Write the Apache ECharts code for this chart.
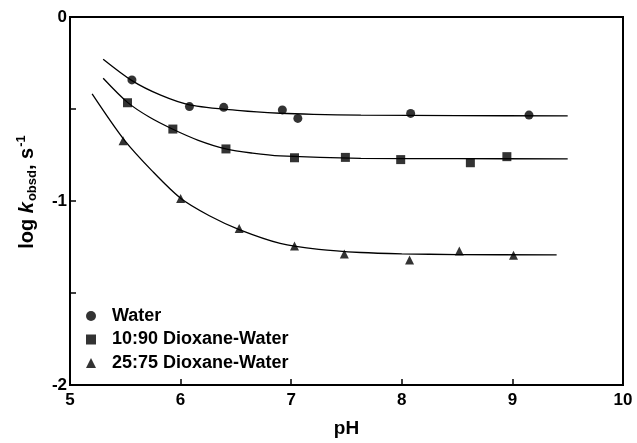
<!DOCTYPE html>
<html>
<head>
<meta charset="utf-8">
<script src="https://cdn.jsdelivr.net/npm/echarts@6/dist/echarts.min.js"></script>
<style>html,body{margin:0;padding:0;background:#fff;}#c{width:637px;height:443px;}</style>
</head>
<body>
<div id="c"></div>
<script>
// Measured points
const waterX = [5.56, 6.08, 6.39, 6.92, 7.06, 8.08, 9.15];
const waterY = [-0.342, -0.487, -0.491, -0.505, -0.551, -0.524, -0.533];
const diox10X = [5.52, 5.93, 6.41, 7.03, 7.49, 7.99, 8.62, 8.95];
const diox10Y = [-0.466, -0.609, -0.717, -0.765, -0.763, -0.775, -0.792, -0.759];
const diox25X = [5.48, 6.00, 6.53, 7.03, 7.48, 8.07, 8.52, 9.01];
const diox25Y = [-0.672, -0.986, -1.149, -1.245, -1.288, -1.321, -1.272, -1.295];
// Fitted curves
const waterFitX = [5.30, 5.56, 5.82, 6.08, 6.54, 6.90, 7.20, 7.63, 8.50, 9.50];
const waterFitY = [-0.230, -0.346, -0.425, -0.477, -0.509, -0.523, -0.529, -0.533, -0.536, -0.537];
const diox10FitX = [5.30, 5.52, 5.72, 5.93, 6.16, 6.41, 6.65, 6.90, 7.63, 8.50, 9.50];
const diox10FitY = [-0.333, -0.464, -0.545, -0.610, -0.670, -0.717, -0.740, -0.755, -0.768, -0.770, -0.771];
const diox25FitX = [5.20, 5.49, 5.74, 6.00, 6.26, 6.53, 6.90, 7.25, 7.63, 8.00, 8.50, 9.40];
const diox25FitY = [-0.418, -0.668, -0.835, -0.985, -1.080, -1.155, -1.230, -1.263, -1.280, -1.287, -1.291, -1.293];
const seriesNames = ['Water', '10:90 Dioxane-Water', '25:75 Dioxane-Water'];
const xTicks = [5, 6, 7, 8, 9, 10];
const yTicks = [0, -1, -2];

const zip = (a, b) => a.map((v, i) => [v, b[i]]);
const font = 'Liberation Sans, Arial, sans-serif';

const chart = echarts.init(document.getElementById('c'));
const lineStyle = { color: '#000', width: 1.3 };
function fit(xs, ys) {
  return { type: 'line', data: zip(xs, ys), smooth: 0.3, showSymbol: false, silent: true,
    lineStyle: lineStyle, z: 2, legendHoverLink: false };
}
function pts(name, xs, ys, symbol, size) {
  return { type: 'scatter', name: name, data: zip(xs, ys), symbol: symbol, symbolSize: size,
    itemStyle: { color: '#000' }, z: 3 };
}
chart.setOption({
  animation: false,
  backgroundColor: '#fff',
  grid: { left: 70, right: 14, top: 17, bottom: 58, show: true, borderColor: '#000', borderWidth: 2 },
  xAxis: {
    type: 'value', min: 5, max: 10, interval: 1,
    name: 'pH', nameLocation: 'middle', nameGap: 34,
    nameTextStyle: { fontFamily: font, fontWeight: 'bold', fontSize: 19, color: '#000' },
    axisLine: { onZero: false, lineStyle: { color: '#000', width: 2 } },
    axisTick: { inside: true, length: 6, lineStyle: { color: '#000', width: 1.5 } },
    axisLabel: { fontFamily: font, fontWeight: 'bold', fontSize: 17, color: '#000', margin: 7,
      formatter: v => xTicks.includes(v) ? String(v) : '' },
    splitLine: { show: false }
  },
  yAxis: {
    type: 'value', min: -2, max: 0, interval: 0.5,
    name: '{a|log }{b|k}{c|obsd}{a|, s}{d|-1}', nameLocation: 'middle', nameGap: 31,
    nameTextStyle: {
      padding: [0, 0, 0, 18],
      rich: {
        a: { fontFamily: font, fontWeight: 'bold', fontSize: 20, color: '#000', lineHeight: 24, verticalAlign: 'middle' },
        b: { fontFamily: font, fontWeight: 'bold', fontStyle: 'italic', fontSize: 20, color: '#000', lineHeight: 24, verticalAlign: 'middle' },
        c: { fontFamily: font, fontWeight: 'bold', fontSize: 13, color: '#000', lineHeight: 24, verticalAlign: 'bottom', padding: [0, 0, 0, 1] },
        d: { fontFamily: font, fontWeight: 'bold', fontSize: 13, color: '#000', lineHeight: 24, verticalAlign: 'top', padding: [0, 0, 0, 1] }
      }
    },
    axisLine: { onZero: false, lineStyle: { color: '#000', width: 2 } },
    axisTick: { inside: true, length: 6, lineStyle: { color: '#000', width: 1.5 } },
    axisLabel: { fontFamily: font, fontWeight: 'bold', fontSize: 17, color: '#000', margin: 3,
      formatter: v => yTicks.includes(v) ? String(v) : '' },
    splitLine: { show: false }
  },
  legend: {
    data: seriesNames, orient: 'vertical', left: 81, top: 302,
    itemWidth: 10, itemHeight: 10, itemGap: 5.5,
    textStyle: { fontFamily: font, fontWeight: 'bold', fontSize: 18, color: '#000', lineHeight: 18, padding: [0, 0, 0, 11] }
  },
  series: [
    fit(waterFitX, waterFitY),
    fit(diox10FitX, diox10FitY),
    fit(diox25FitX, diox25FitY),
    pts(seriesNames[0], waterX, waterY, 'circle', 9),
    pts(seriesNames[1], diox10X, diox10Y, 'rect', 9),
    pts(seriesNames[2], diox25X, diox25Y, 'triangle', 9)
  ]
});
</script>
</body>
</html>
